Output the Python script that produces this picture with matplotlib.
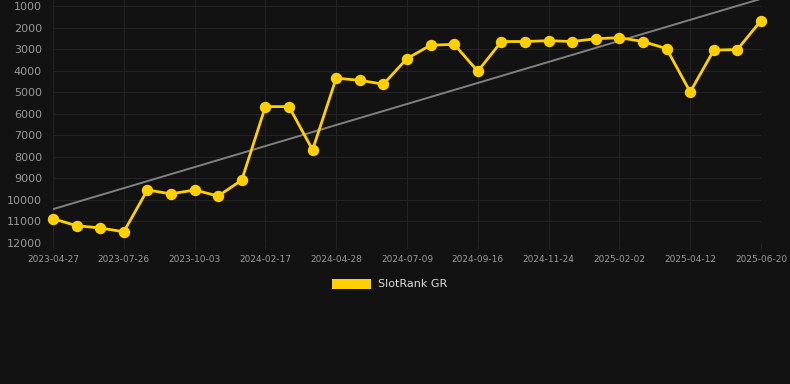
import numpy as np
import matplotlib.pyplot as plt
from matplotlib.patches import Patch

# Rang-Verlauf (kleinere Zahl = besserer Rang)
dates = ['2023-04-27', '2023-05-27', '2023-06-26', '2023-07-26', '2023-08-18', '2023-09-10',
         '2023-10-03', '2023-11-18', '2024-01-02', '2024-02-17', '2024-03-10', '2024-04-04',
         '2024-04-28', '2024-05-22', '2024-06-15', '2024-07-09', '2024-08-01', '2024-08-24',
         '2024-09-16', '2024-10-09', '2024-11-01', '2024-11-24', '2024-12-17', '2025-01-09',
         '2025-02-02', '2025-02-25', '2025-03-20', '2025-04-12', '2025-05-05', '2025-05-28',
         '2025-06-20']
rank = [10870, 11200, 11300, 11480, 9540, 9720, 9540, 9820, 9080, 5670, 5670, 7680,
        4350, 4450, 4630, 3440, 2820, 2780, 4030, 2650, 2650, 2610, 2650, 2520,
        2470, 2650, 2980, 4990, 3050, 3020, 1680]
y_ticks = [1000, 2000, 3000, 4000, 5000, 6000, 7000, 8000, 9000, 10000, 11000, 12000]
label = 'SlotRank GR'

bg = '#121212'
yellow = '#ffd000'

fig = plt.figure(figsize=(7.9, 3.84), dpi=100, facecolor=bg)
ax = fig.add_axes([53 / 790, 1 - 243 / 384, (761 - 53) / 790, 243 / 384])
ax.set_facecolor(bg)

x = np.arange(len(rank))

# Trendlinie (lineare Regression)
k, d = np.polyfit(x, rank, 1)
ax.plot(x, k * x + d, color='#808080', lw=1.4, zorder=2)

ax.plot(x, rank, color=yellow, lw=2, marker='o', ms=7.2, zorder=3, clip_on=False)

ax.set_ylim(12000, 722)
ax.set_xlim(0, len(rank) - 1)
ax.set_yticks(y_ticks)
ax.set_yticklabels([str(v) for v in y_ticks])
ax.set_xticks(x[::3])
ax.set_xticklabels(dates[::3])

ax.grid(True, color='#232323', lw=0.8)
ax.tick_params(axis='y', colors='#999999', labelsize=8, length=0, pad=8)
ax.tick_params(axis='x', colors='#999999', labelsize=6.5, length=4, pad=5)
ax.tick_params(axis='x', color='#232323')
for s in ax.spines.values():
    s.set_visible(False)

fig.legend(handles=[Patch(facecolor=yellow, label=label)], loc='center',
           bbox_to_anchor=(0.493, 1 - 284 / 384), frameon=False, fontsize=8,
           labelcolor='#dddddd', handlelength=3.5, handleheight=1.05, handletextpad=0.6)

fig.savefig('out.png', dpi=100, facecolor=bg)
